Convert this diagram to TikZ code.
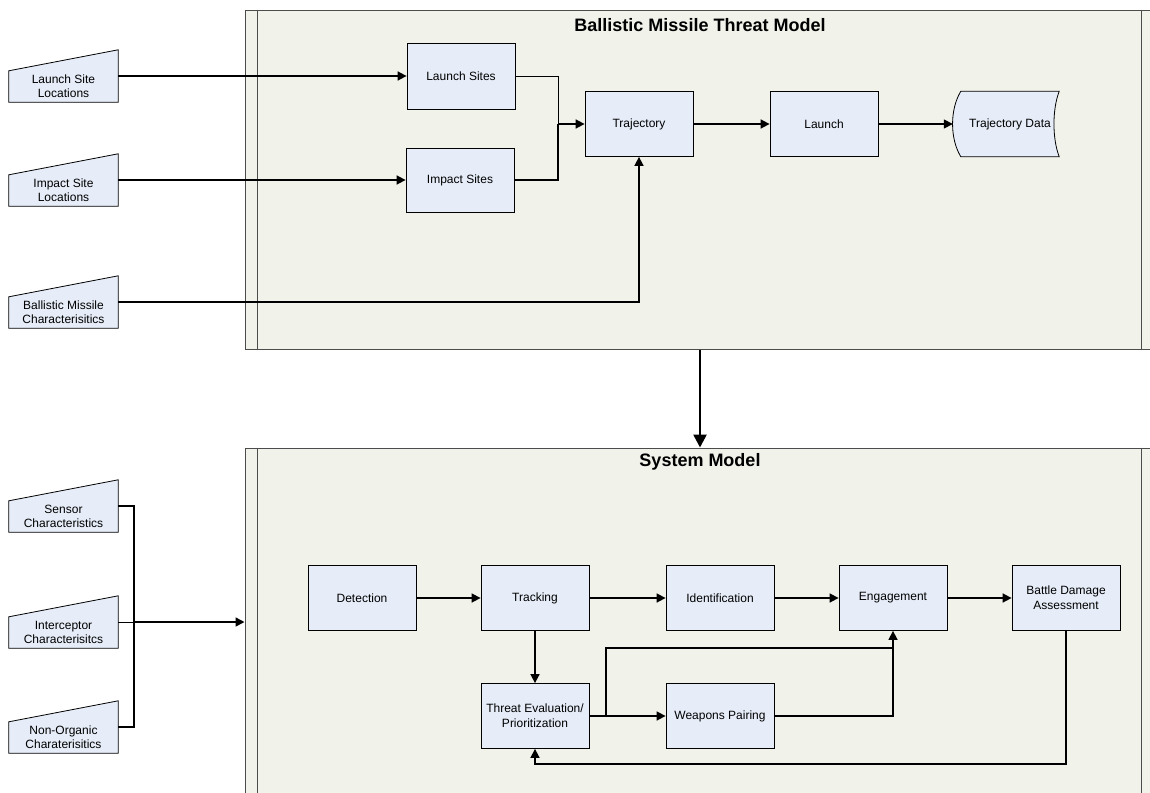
\documentclass[tikz,border=0pt]{standalone}
\usepackage{fontspec}
\setmainfont{Liberation Sans}
\usetikzlibrary{positioning}
\usetikzlibrary{calc}
\usetikzlibrary{arrows.meta}
\definecolor{panelfill}{RGB}{241,242,234}
\definecolor{boxfill}{RGB}{230,237,248}
\pgfdeclarelayer{back}
\pgfdeclarelayer{mid}
\pgfsetlayers{back,mid,main}

\begin{document}
\begin{tikzpicture}[x=1pt, y=-1pt,
    proc/.style={draw=black, fill=boxfill, line width=0.8pt, minimum width=108pt, minimum height=65pt, inner sep=2pt, align=center, font=\fontsize{12}{15}\selectfont},
    datain/.style={minimum width=109pt, minimum height=31pt, inner sep=0pt, align=center, font=\fontsize{12}{14}\selectfont},
    panel/.style={draw=black!70, fill=panelfill, line width=1pt, minimum width=915pt, inner sep=0pt},
    paneltitle/.style={font=\fontsize{18}{20}\selectfont\bfseries},
    flow/.style={line width=1.6pt},
    arr/.style={flow, -{Triangle[length=9pt,width=9pt]}}]

    \useasboundingbox (0,0) rectangle (1150,792);

    % Panels
    \begin{pgfonlayer}{back}
        \node[panel, minimum height=338pt] (tm) at (702.5,180) {};
        \node[panel, minimum height=352pt] (sm) at (702.5,624) {};
        \foreach \p in {tm,sm} {
            \draw[black!70, line width=1pt] ([xshift=13pt]\p.north west) -- ([xshift=13pt]\p.south west);
            \draw[black!70, line width=1pt] ([xshift=897pt]\p.north west) -- ([xshift=897pt]\p.south west);
        }
    \end{pgfonlayer}
    \node[paneltitle] (tmtitle) at (700,25) {Ballistic Missile Threat Model};
    \node[paneltitle] (smtitle) at (700,462) {System Model};

    % Threat model inputs
    \node[datain] (lsl) at (63.5,86.5) {Launch Site\\Locations};
    \node[datain] (isl) at (63.5,190.5) {Impact Site\\Locations};
    \node[datain] (bmc) at (63.5,312.5) {Ballistic Missile\\Characterisitics};

    % System model inputs
    \node[datain] (sc) at (63.5,516.5) {Sensor\\Characteristics};
    \node[datain] (ic) at (63.5,632.5) {Interceptor\\Characterisitcs};
    \node[datain] (noc) at (63.5,737.5) {Non-Organic\\Charaterisitics};

    % Threat model steps
    \node[proc, minimum height=66pt] (ls) at (461,76) {Launch Sites};
    \node[proc, minimum height=64pt] (is) at (460,180) {Impact Sites};
    \node[proc] (traj) at (639,124) {Trajectory};
    \node[proc] (lnch) at (824,124) {Launch};
    \node[datain, minimum width=98pt, minimum height=65pt] (tdata) at (1010,124) {Trajectory Data};

    % Input and data shapes
    \begin{pgfonlayer}{mid}
        \foreach \n in {lsl,isl,bmc,sc,ic,noc} {
            \draw[fill=boxfill, line width=0.8pt] (\n.south west) -- (\n.south east) -- ([yshift=21pt]\n.north east) -- (\n.north west) -- cycle;
        }
        \draw[fill=boxfill, line width=0.8pt] (tdata.north west) -- (tdata.north east)
            .. controls ([xshift=-7pt,yshift=-18pt]tdata.north east) and ([xshift=-7pt,yshift=18pt]tdata.south east) .. (tdata.south east)
            -- (tdata.south west)
            .. controls ([xshift=-11pt,yshift=18pt]tdata.south west) and ([xshift=-11pt,yshift=-18pt]tdata.north west) .. (tdata.north west) -- cycle;
    \end{pgfonlayer}
    \foreach \n in {lsl,isl,bmc,sc,ic,noc}
        \coordinate (\n-o) at ([yshift=10.5pt]\n.east);

    % Threat model flow
    \draw[arr] (lsl-o) -- (ls.west);
    \draw[arr] (isl-o) -- (is.west);
    \coordinate (jn) at (558,124);
    \draw[line width=0.8pt] (ls.east) -| (jn);
    \draw[flow] (is.east) -| (jn);
    \draw[arr] (jn) -- (traj.west);
    \draw[arr] (bmc-o) -| (traj.south);
    \draw[arr] (traj) -- (lnch);
    \draw[arr] (lnch) -- ([xshift=-8pt]tdata.west);

    % Threat model feeds system model
    \draw[line width=2.6pt, -{Triangle[length=13pt,width=13pt]}] (tm.south -| tmtitle) -- (sm.north -| tmtitle);

    % System model steps
    \node[proc] (det) at (362,598) {Detection};
    \node[proc] (trk) at (535,598) {Tracking};
    \node[proc] (ident) at (720,598) {Identification};
    \node[proc] (eng) at (893,598) {Engagement};
    \node[proc] (bda) at (1066,598) {Battle Damage\\Assessment};
    \node[proc] (tep) at (535,716) {Threat Evaluation/\\Prioritization};
    \node[proc] (wp) at (720,716) {Weapons Pairing};

    % Inputs bus
    \coordinate (bus) at (134,622);
    \draw[flow] (sc-o) -| (bus) |- (noc-o);
    \draw[line width=0.8pt] (ic-o) -- (bus);
    \draw[arr] (bus) -- (bus -| sm.west);

    % System model flow
    \draw[arr] (det) -- (trk);
    \draw[arr] (trk) -- (ident);
    \draw[arr] (ident) -- (eng);
    \draw[arr] (eng) -- (bda);
    \draw[arr] (trk) -- (tep);
    \draw[arr] (tep) -- (wp);
    \coordinate (brk) at (606,716);
    \coordinate (mrg) at (893,648);
    \draw[flow] (brk) |- (mrg);
    \draw[arr] (wp.east) -| (eng.south);
    \coordinate (fb) at (1066,764);
    \draw[arr] (bda.south) -- (fb) -| (tep.south);
\end{tikzpicture}
\end{document}
